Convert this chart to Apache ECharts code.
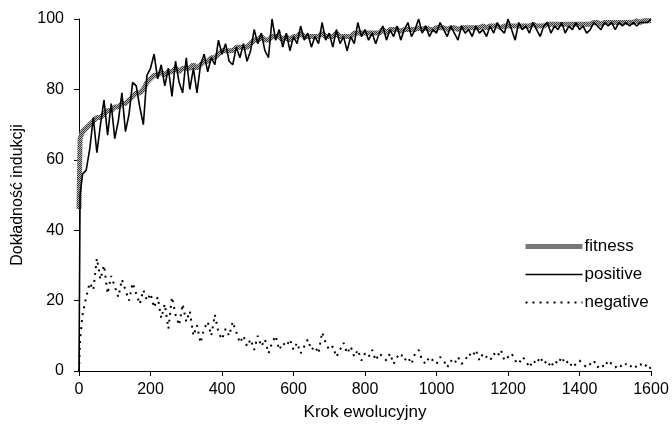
<!DOCTYPE html>
<html>
<head>
<meta charset="utf-8">
<script src="https://cdn.jsdelivr.net/npm/echarts@6/dist/echarts.min.js"></script>
<style>
  html, body { margin: 0; padding: 0; background: #fff; }
  #chart { width: 672px; height: 438px; }
</style>
</head>
<body>
<div id="chart"></div>
<script>
// Evolution steps at which the three measures are recorded
const steps = [0, 3];
for (let s = 10; s <= 1600; s += 10) steps.push(s);

// Fitness of the best individual
const fitness = [
  46, 66,
  68, 69, 70, 71, 72, 72, 73, 74, 74, 75,
  75, 76, 76, 77, 78, 79, 79, 80, 82, 83,
  84, 84, 85, 84, 85, 85, 86, 85, 86, 86,
  86, 87, 86, 87, 88, 88, 89, 89, 90, 91,
  91, 91, 91, 92, 92, 92, 92, 93, 94, 94,
  95, 94, 94, 95, 95, 95, 94, 95, 94, 95,
  95, 96, 95, 95, 95, 95, 95, 96, 95, 95,
  95, 96, 95, 95, 95, 95, 96, 96, 96, 96,
  96, 96, 96, 96, 97, 96, 97, 97, 97, 96.5,
  97, 97, 97, 97, 97.5, 97, 97.5, 97, 97, 97.5,
  97.5, 97.5, 97, 97.5, 97.5, 97, 97.5, 97.5, 97.5, 97.5,
  97.5, 97.5, 98, 97.5, 98, 98, 98, 97.5, 98, 98,
  98, 98, 98, 98, 98, 98, 98.5, 98, 98, 98,
  98.5, 98.5, 98.5, 98.5, 98.5, 98.5, 98.5, 98.5, 98.5, 98.5,
  98.5, 98.5, 98.5, 99, 99, 98.5, 99, 99, 99, 99,
  99, 99, 99, 99, 99, 99.5, 99, 99.5, 99.5, 99.5
];

// Accuracy on positive examples
const positive = [
  0, 50,
  56, 57, 63, 72, 62, 70, 77, 67, 76, 66,
  71, 79, 68, 73, 82, 81, 75, 70, 84, 86,
  90, 83, 87, 81, 86, 78, 88, 82, 79, 89,
  80, 86, 79, 87, 90, 85, 89, 87, 94, 90,
  93, 88, 87, 92, 89, 93, 88, 91, 97, 93,
  96, 91, 89, 100, 94, 97, 92, 96, 91, 95,
  93, 98, 94, 96, 92, 95, 93, 99, 94, 96,
  92, 97, 93, 95, 91, 95, 93, 99, 95, 97,
  94, 96, 93, 96, 98, 94, 97, 95, 98, 94,
  97, 99, 95, 97, 100, 96, 98, 95, 97, 96,
  99, 97, 95, 98, 96, 94, 98, 96, 97, 95,
  98, 96, 97, 95, 98, 96, 99, 97, 96, 100,
  97, 94, 99, 97, 98, 96, 99, 97, 95, 98,
  99, 96, 98, 97, 99, 96, 98, 97, 99, 97,
  98, 96, 97, 99, 98, 97, 99, 98, 99, 97,
  99, 98, 99, 98, 99, 98, 99, 99, 99, 100
];

// Error rate on negative examples
const negative = [
  0, 9,
  16, 21, 25, 23, 32, 26, 30, 22, 27, 24,
  21, 26, 23, 20, 25, 22, 19, 23, 20, 22,
  18, 21, 15, 19, 12, 21, 16, 13, 19, 14,
  17, 10, 13, 8, 12, 14, 10, 16, 11, 9,
  12, 10, 14, 11, 8, 10, 7, 9, 6, 10,
  7, 9, 5, 8, 10, 6, 8, 7, 9, 6,
  8, 5, 7, 9, 6, 7, 5, 11, 8, 6,
  7, 4, 6, 8, 5, 7, 4, 6, 3, 5,
  4, 6, 3, 5, 4, 3, 5, 2, 4, 5,
  3, 4, 2, 5, 6, 3, 2, 4, 3, 2,
  4, 3, 1, 3, 2, 4, 2, 3, 5, 4,
  6, 3, 5, 4, 3, 5, 4, 6, 3, 4,
  5, 3, 2, 4, 3, 1, 3, 2, 4, 2,
  3, 1, 3, 2, 4, 2, 3, 1, 2, 3,
  2, 1, 2, 3, 1, 2, 1, 3, 2, 1,
  2, 1, 2, 1, 2, 1, 2, 1, 2, 0.5
];

const yTicks = [0, 20, 40, 60, 80, 100];
const xTicks = [0, 200, 400, 600, 800, 1000, 1200, 1400, 1600];

// Hatched grey fill used for the thick fitness line
function hatchPattern() {
  const c = document.createElement('canvas');
  c.width = 4; c.height = 4;
  const g = c.getContext('2d');
  g.fillStyle = '#b4b4b4';
  g.fillRect(0, 0, 4, 4);
  g.fillStyle = '#3c3c3c';
  g.fillRect(0, 0, 1, 1);
  g.fillRect(2, 0, 1, 1);
  g.fillRect(1, 1, 1, 1);
  g.fillRect(3, 1, 1, 1);
  g.fillRect(0, 2, 1, 1);
  g.fillRect(2, 2, 1, 1);
  g.fillRect(1, 3, 1, 1);
  g.fillRect(3, 3, 1, 1);
  return { image: c, repeat: 'repeat' };
}

const pairs = arr => steps.map((s, i) => [s, arr[i]]);
const font = 'Liberation Sans';

const chart = echarts.init(document.getElementById('chart'), null, { renderer: 'canvas' });
chart.setOption({
  animation: false,
  backgroundColor: '#ffffff',
  textStyle: { fontFamily: font, color: '#000' },
  grid: { left: 79, right: 21, top: 19, bottom: 67, containLabel: false },
  legend: {
    orient: 'vertical',
    left: 523,
    top: 238,
    padding: 0,
    itemWidth: 57,
    itemHeight: 12,
    itemGap: 11,
    itemStyle: { opacity: 0 },
    textStyle: { fontFamily: font, fontSize: 17, color: '#000', padding: [0, 0, 0, -3] },
    data: [
      { name: 'fitness', lineStyle: { width: 5, color: hatchPattern() } },
      { name: 'positive', lineStyle: { width: 1.6 } },
      { name: 'negative', lineStyle: { width: 2 } }
    ]
  },
  xAxis: {
    type: 'value',
    min: 0,
    max: 1600,
    interval: 200,
    name: 'Krok ewolucyjny',
    nameLocation: 'middle',
    nameGap: 33,
    nameTextStyle: { fontFamily: font, fontSize: 17, color: '#000' },
    axisLine: { show: true, lineStyle: { color: '#000', width: 1 } },
    axisTick: { show: true, inside: false, length: 5, lineStyle: { color: '#000' } },
    axisLabel: { fontFamily: font, fontSize: 16, color: '#000', margin: 11,
      formatter: v => xTicks.includes(v) ? String(v) : '' },
    splitLine: { show: false }
  },
  yAxis: {
    type: 'value',
    min: 0,
    max: 100,
    interval: 20,
    name: 'Dokładność indukcji',
    nameLocation: 'middle',
    nameGap: 53,
    nameRotate: 90,
    nameTextStyle: { fontFamily: font, fontSize: 16, color: '#000' },
    axisLine: { show: true, lineStyle: { color: '#000', width: 1 } },
    axisTick: { show: true, inside: false, length: 5, lineStyle: { color: '#000' } },
    axisLabel: { fontFamily: font, fontSize: 16, color: '#000', margin: 15,
      formatter: v => yTicks.includes(v) ? String(v) : '' },
    splitLine: { show: false }
  },
  series: [
    {
      name: 'fitness',
      type: 'line',
      data: pairs(fitness),
      symbol: 'none',
      lineStyle: { width: 5, color: hatchPattern() },
      itemStyle: { color: '#777' },
      z: 1
    },
    {
      name: 'positive',
      type: 'line',
      data: pairs(positive),
      symbol: 'none',
      lineStyle: { width: 1.6, color: '#000' },
      itemStyle: { color: '#000' },
      z: 2
    },
    {
      name: 'negative',
      type: 'line',
      data: pairs(negative),
      symbol: 'none',
      lineStyle: { width: 2, color: '#000', type: [2, 5] },
      itemStyle: { color: '#000' },
      z: 3
    }
  ]
});
</script>
</body>
</html>
